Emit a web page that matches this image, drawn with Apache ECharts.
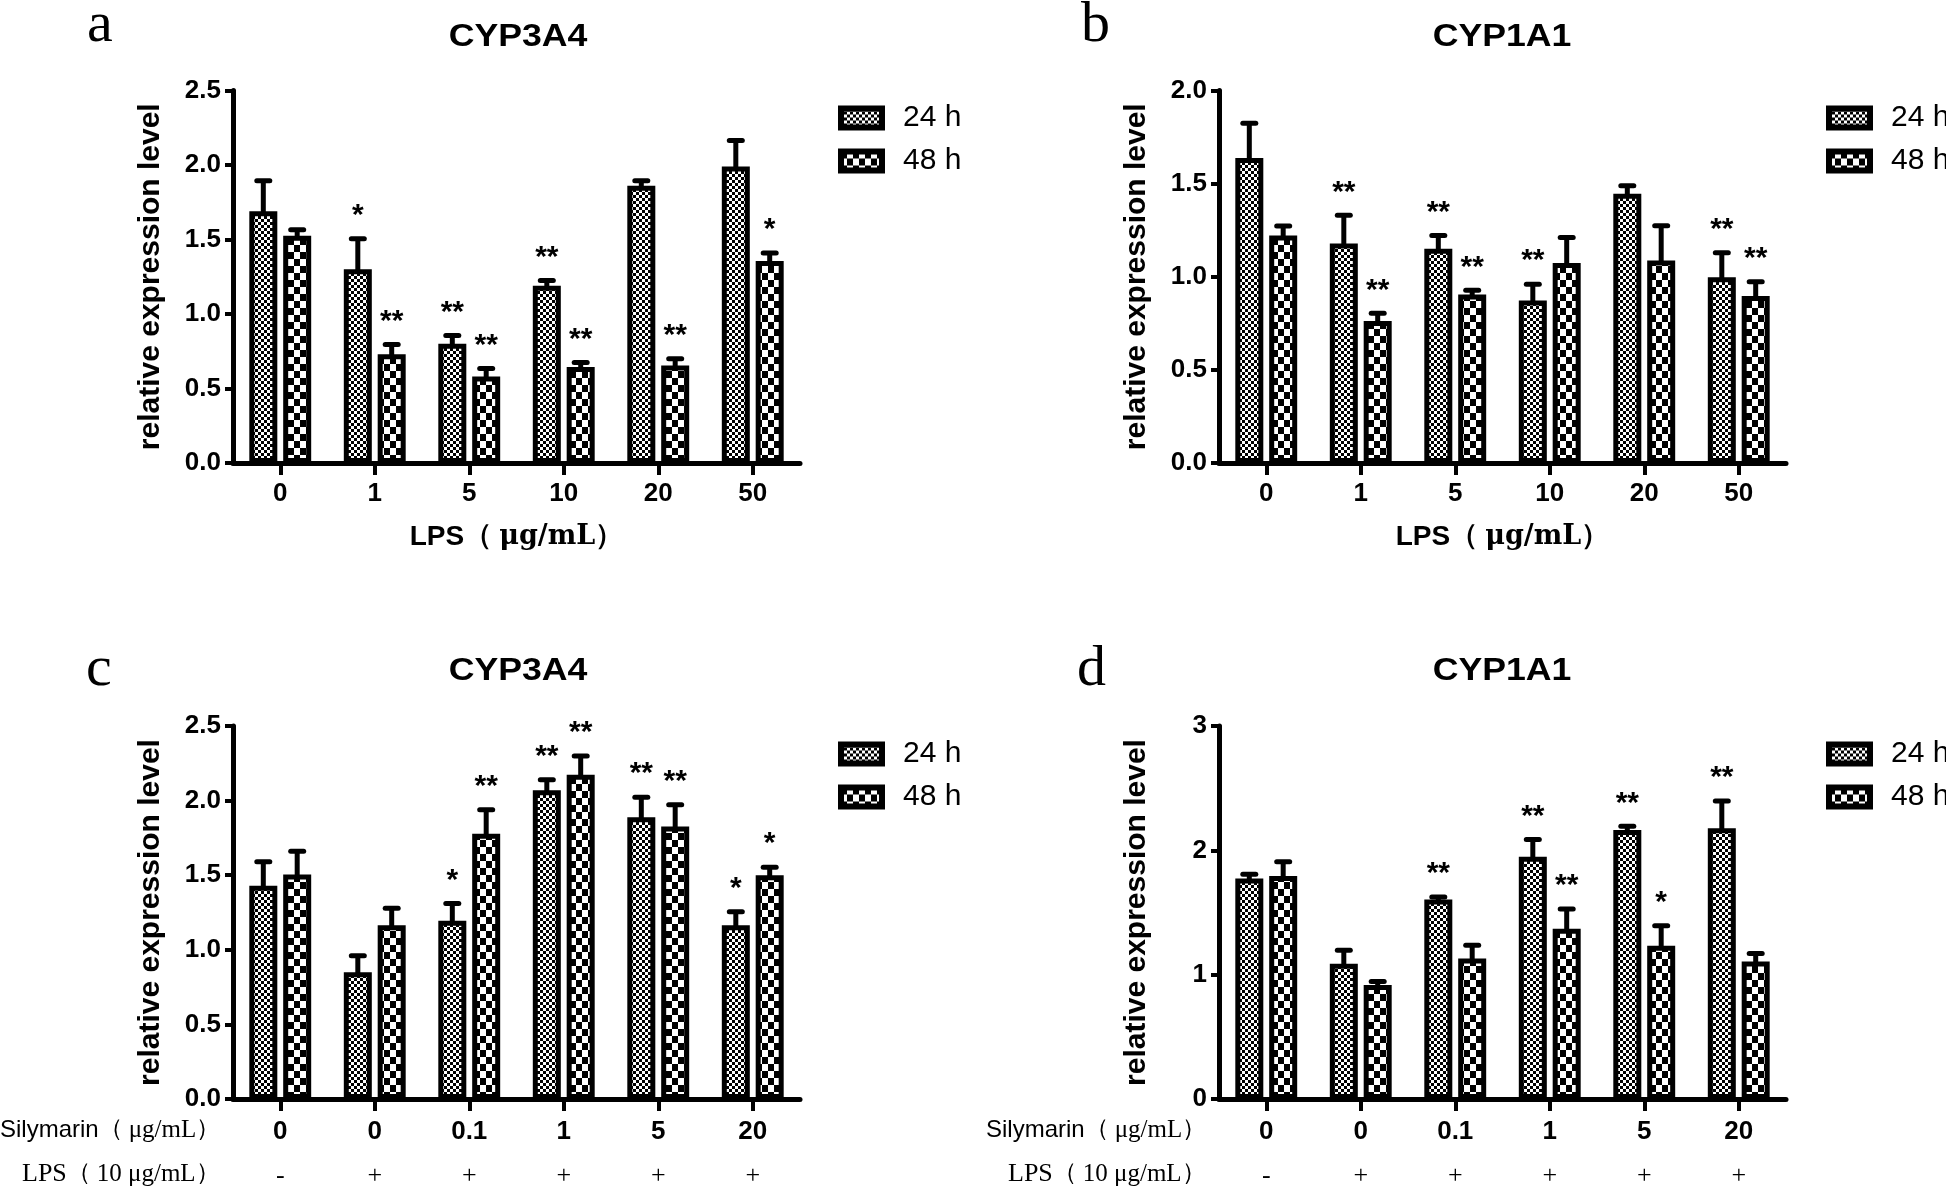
<!DOCTYPE html>
<html>
<head>
<meta charset="utf-8">
<script src="https://cdn.jsdelivr.net/npm/echarts@6/dist/echarts.min.js"></script>
<style>
html,body{margin:0;padding:0;background:#fff;}
#chart{width:1946px;height:1189px;}
</style>
</head>
<body>
<div id="chart"></div>
<script>
// ---------- data ----------
const catsLPS = ['0', '1', '5', '10', '20', '50'];
const catsSily = ['0', '0', '0.1', '1', '5', '20'];
const catsLPSsign = ['-', '+', '+', '+', '+', '+'];

// panel a : CYP3A4 vs LPS
const a24 = [1.69, 1.30, 0.80, 1.19, 1.86, 1.99];
const a24sd = [0.205, 0.205, 0.055, 0.035, 0.035, 0.175];
const a48 = [1.525, 0.73, 0.58, 0.645, 0.655, 1.355];
const a48sd = [0.04, 0.065, 0.055, 0.03, 0.045, 0.055];
const a24star = ['', '*', '**', '**', '', ''];
const a48star = ['', '**', '**', '**', '**', '*'];

// panel b : CYP1A1 vs LPS
const b24 = [1.637, 1.178, 1.15, 0.873, 1.446, 0.997];
const b24sd = [0.187, 0.152, 0.072, 0.087, 0.042, 0.132];
const b48 = [1.221, 0.762, 0.905, 1.074, 1.087, 0.896];
const b48sd = [0.052, 0.042, 0.022, 0.137, 0.187, 0.077];
const b24star = ['', '**', '**', '**', '', '**'];
const b48star = ['', '**', '**', '', '', '**'];

// panel c : CYP3A4 silymarin + LPS
const c24 = [1.43, 0.85, 1.195, 2.07, 1.888, 1.165];
const c24sd = [0.16, 0.11, 0.115, 0.07, 0.135, 0.09];
const c48 = [1.505, 1.164, 1.778, 2.174, 1.827, 1.499];
const c48sd = [0.155, 0.115, 0.16, 0.125, 0.145, 0.055];
const c24star = ['', '', '*', '**', '**', '*'];
const c48star = ['', '', '**', '**', '**', '*'];

// panel d : CYP1A1 silymarin + LPS
const d24 = [1.773, 1.087, 1.605, 1.948, 2.163, 2.177];
const d24sd = [0.035, 0.11, 0.02, 0.14, 0.03, 0.22];
const d48 = [1.794, 0.916, 1.131, 1.369, 1.233, 1.105];
const d48sd = [0.115, 0.03, 0.105, 0.16, 0.16, 0.065];
const d24star = ['', '', '**', '**', '**', '**'];
const d48star = ['', '', '', '**', '*', ''];

const yTicksA = {min: 0, max: 2.5, interval: 0.5};
const yTicksB = {min: 0, max: 2.0, interval: 0.5};
const yTicksC = {min: 0, max: 2.5, interval: 0.5};
const yTicksD = {min: 0, max: 3, interval: 1};

// ---------- styles ----------
function checker(cw, ch) {
  const c = document.createElement('canvas');
  c.width = cw * 2; c.height = ch * 2;
  const g = c.getContext('2d');
  g.fillStyle = '#fff'; g.fillRect(0, 0, c.width, c.height);
  g.fillStyle = '#000';
  g.fillRect(0, 0, cw, ch); g.fillRect(cw, ch, cw, ch);
  return c;
}
const pat24 = {image: checker(3, 3), repeat: 'repeat'};
const pat48 = {image: checker(6, 7), repeat: 'repeat'};

const SANS = 'Liberation Sans, Arial, sans-serif';
const SERIF = 'Liberation Serif, Times New Roman, serif';
const WSERIF = 'DejaVu Serif, Liberation Serif, serif';
const BAR_W = 28, BAR_GAP = 0.21, BORDER = 5;
const OFF = BAR_W * (1 + BAR_GAP) / 2;

const grids = [
  {left: 233, top: 90.5, width: 567, height: 372.5},
  {left: 1219, top: 90.5, width: 567, height: 372.5},
  {left: 233, top: 726, width: 567, height: 374},
  {left: 1219, top: 726, width: 567, height: 374}
];

const axisLineStyle = {show: true, lineStyle: {color: '#000', width: 5}};

function makeYAxis(gi, ticks, fmt) {
  return {
    type: 'value', gridIndex: gi, min: ticks.min, max: ticks.max, interval: ticks.interval,
    axisLine: axisLineStyle,
    axisTick: {show: true, length: 8, lineStyle: {color: '#000', width: 4}},
    splitLine: {show: false},
    axisLabel: {color: '#000', fontFamily: SANS, fontWeight: 'bold', fontSize: 26, margin: 12, formatter: fmt},
    name: 'relative expression level', nameLocation: 'middle', nameRotate: 90, nameGap: 67,
    nameTextStyle: {color: '#000', fontFamily: SANS, fontWeight: 'bold', fontSize: 30}
  };
}
const fmt1 = v => v.toFixed(1);
const fmt0 = v => String(v);

function makeXAxisLPS(gi) {
  return {
    type: 'category', gridIndex: gi, data: catsLPS,
    axisLine: axisLineStyle,
    axisTick: {show: true, alignWithLabel: true, length: 12, lineStyle: {color: '#000', width: 4}},
    axisLabel: {color: '#000', fontFamily: SANS, fontWeight: 'bold', fontSize: 26, margin: 18},
    name: '{s|LPS}{p|（ }{u|μg/mL}{p|）}', nameLocation: 'middle', nameGap: 60,
    nameTextStyle: {
      rich: {
        s: {fontFamily: SANS, fontWeight: 'bold', fontSize: 28, color: '#000'},
        p: {fontFamily: SERIF, fontWeight: 'bold', fontSize: 28, color: '#000'},
        u: {fontFamily: WSERIF, fontWeight: 'bold', fontSize: 27, color: '#000'}
      }
    }
  };
}
function makeXAxisSily(gi) {
  return {
    type: 'category', gridIndex: gi, data: catsSily,
    axisLine: axisLineStyle,
    axisTick: {show: true, alignWithLabel: true, length: 12, lineStyle: {color: '#000', width: 4}},
    axisLabel: {
      color: '#000', margin: 11, interval: 0,
      formatter: (v, i) => '{a|' + v + '}\n{b|' + catsLPSsign[i] + '}',
      rich: {
        a: {fontFamily: SANS, fontWeight: 'bold', fontSize: 26, lineHeight: 44, color: '#000'},
        b: {fontFamily: SERIF, fontSize: 26, lineHeight: 44, color: '#000'}
      }
    }
  };
}

function barSeries(name, gi, vals, pat) {
  return {
    type: 'bar', name: name, xAxisIndex: gi, yAxisIndex: gi,
    data: vals, barWidth: BAR_W, barGap: Math.round(BAR_GAP * 100) + '%',
    itemStyle: {color: pat, borderColor: '#000', borderWidth: BORDER},
    emphasis: {disabled: true}, z: 2
  };
}
function errSeries(gi, vals, sds, stars, side) {
  return {
    type: 'custom', name: 'err' + gi + side, xAxisIndex: gi, yAxisIndex: gi,
    data: vals.map((v, i) => [i, v, sds[i]]),
    z: 3, silent: true,
    renderItem: function (params, api) {
      const i = api.value(0), m = api.value(1), sd = api.value(2);
      const base = api.coord([i, m]);
      const top = api.coord([i, m + sd]);
      const x = base[0] + side * OFF;
      const star = stars[params.dataIndex];
      return {
        type: 'group',
        children: [
          {type: 'line', shape: {x1: x, y1: base[1] + 3, x2: x, y2: top[1]}, style: {stroke: '#000', lineWidth: 5}},
          {type: 'line', shape: {x1: x - 6.5, y1: top[1], x2: x + 6.5, y2: top[1]}, style: {stroke: '#000', lineWidth: 5, lineCap: 'round'}},
          {type: 'text', x: x, y: top[1] - 23, style: {text: star, font: 'bold 30px ' + SANS, fill: '#000', align: 'center', verticalAlign: 'middle'}}
        ]
      };
    }
  };
}

function legendAt(left, top) {
  return {
    left: left, top: top, orient: 'vertical', padding: 0,
    itemWidth: 41, itemHeight: 19, itemGap: 13, icon: 'rect',
    itemStyle: {borderColor: '#000', borderWidth: 6},
    textStyle: {fontFamily: SANS, fontSize: 30, color: '#000', padding: [0, 0, 0, 16]},
    data: ['24 h', '48 h'], selectedMode: false
  };
}

function titleText(x, y, t) {
  return {type: 'text', x: x, y: y, scaleX: 1.15,
    style: {text: t, font: 'bold 31px ' + SANS, fill: '#000', align: 'center', verticalAlign: 'middle'}};
}
function letterText(x, y, t) {
  return {type: 'text', x: x, y: y,
    style: {text: t, font: '58px ' + SERIF, fill: '#000', align: 'left', verticalAlign: 'middle'}};
}
function rowLabel(x, y, parts) {
  const rich = {};
  let text = '';
  parts.forEach((p, k) => { rich['r' + k] = {font: p[1], fill: '#000'}; text += '{r' + k + '|' + p[0] + '}'; });
  return {type: 'text', x: x, y: y, style: {text: text, align: 'left', verticalAlign: 'middle', rich: rich}};
}
const silyParts = [['Silymarin', '24px ' + SANS], ['（ ', '24px ' + SERIF], ['μg/mL', '25px ' + SERIF], ['）', '24px ' + SERIF]];
const lpsParts = [['LPS', '26px ' + SERIF], ['（ ', '24px ' + SERIF], ['10 μg/mL', '25px ' + SERIF], ['）', '24px ' + SERIF]];

const option = {
  backgroundColor: '#fff',
  animation: false,
  grid: grids,
  xAxis: [makeXAxisLPS(0), makeXAxisLPS(1), makeXAxisSily(2), makeXAxisSily(3)],
  yAxis: [makeYAxis(0, yTicksA, fmt1), makeYAxis(1, yTicksB, fmt1), makeYAxis(2, yTicksC, fmt1), makeYAxis(3, yTicksD, fmt0)],
  legend: [legendAt(838, 103), legendAt(1826, 103), legendAt(838, 739), legendAt(1826, 739)],
  series: [
    barSeries('24 h', 0, a24, pat24), barSeries('48 h', 0, a48, pat48),
    barSeries('24 h', 1, b24, pat24), barSeries('48 h', 1, b48, pat48),
    barSeries('24 h', 2, c24, pat24), barSeries('48 h', 2, c48, pat48),
    barSeries('24 h', 3, d24, pat24), barSeries('48 h', 3, d48, pat48),
    errSeries(0, a24, a24sd, a24star, -1), errSeries(0, a48, a48sd, a48star, 1),
    errSeries(1, b24, b24sd, b24star, -1), errSeries(1, b48, b48sd, b48star, 1),
    errSeries(2, c24, c24sd, c24star, -1), errSeries(2, c48, c48sd, c48star, 1),
    errSeries(3, d24, d24sd, d24star, -1), errSeries(3, d48, d48sd, d48star, 1)
  ],
  graphic: [
    letterText(87, 26, 'a'), letterText(1081, 26, 'b'),
    letterText(86, 670, 'c'), letterText(1077, 670, 'd'),
    titleText(518, 37, 'CYP3A4'), titleText(1502, 37, 'CYP1A1'),
    titleText(518, 671, 'CYP3A4'), titleText(1502, 671, 'CYP1A1'),
    rowLabel(0, 1130, silyParts), rowLabel(22, 1174, lpsParts),
    rowLabel(986, 1130, silyParts), rowLabel(1008, 1174, lpsParts)
  ]
};

const chart = echarts.init(document.getElementById('chart'), null, {renderer: 'canvas'});
chart.setOption(option);
</script>
</body>
</html>
